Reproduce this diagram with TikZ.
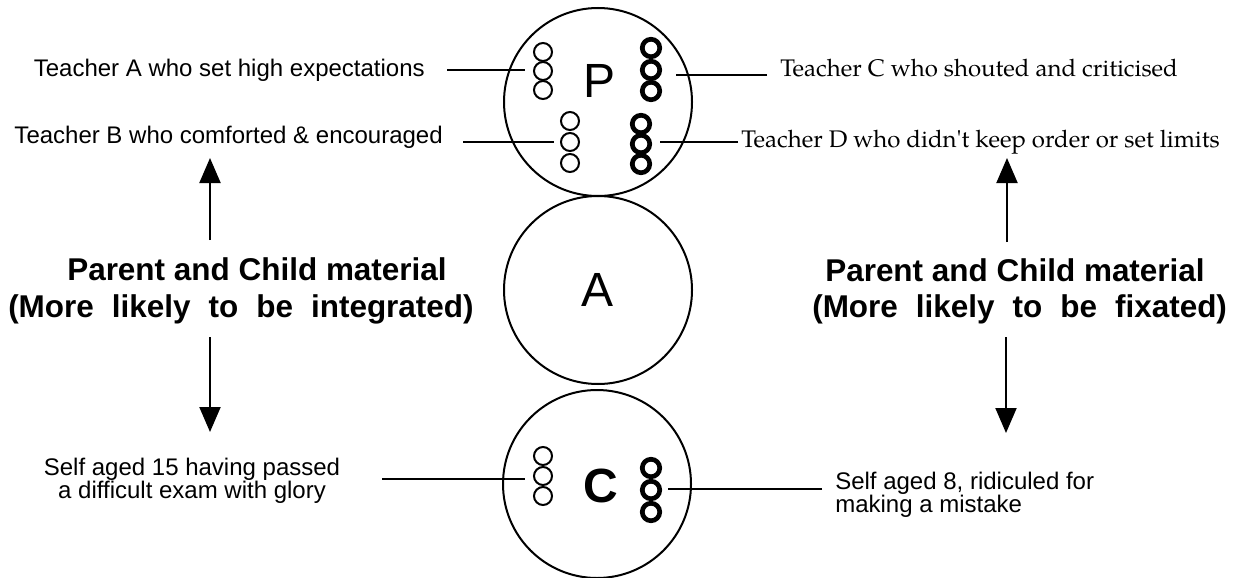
\documentclass[tikz,border=0pt]{standalone}
\usepackage{fontspec}
\setmainfont{Liberation Sans}
\newfontfamily\palfont[Extension=.otf, UprightFont=*-regular, BoldFont=*-bold]{texgyrepagella}
\usetikzlibrary{arrows.meta}

\begin{document}
\begin{tikzpicture}[x=0.75pt, y=-0.75pt,
  big/.style={circle, draw, line width=1.5pt, minimum size=141pt, inner sep=0pt},
  thinring/.style={circle, draw, line width=1.5pt, minimum size=13.5pt, inner sep=0pt, outer sep=0pt},
  thickring/.style={circle, draw, line width=3.5pt, minimum size=13.1pt, inner sep=0pt, outer sep=0pt},
  link/.style={line width=1.5pt},
  flow/.style={line width=1.5pt, -{Triangle[length=18.75pt, width=15.75pt]}},
  sans/.style={font=\fontsize{18pt}{16.5pt}\selectfont, inner sep=0pt},
  serif/.style={font=\palfont\fontsize{18pt}{21pt}\selectfont, inner sep=0pt},
  heading/.style={font=\bfseries\fontsize{23.6pt}{28pt}\selectfont, inner sep=0pt},
  letter/.style={font=\fontsize{36pt}{40pt}\selectfont, inner sep=0pt}]

\useasboundingbox (0,0) rectangle (1235,578);

% the three ego-state circles
\node[big] (P) at (598,102) {};
\node[big, font=\fontsize{36pt}{40pt}\selectfont] (A) at (598,290) {A};
\node[big] (C) at (597,484) {};
\node[letter, anchor=base] (lp) at (600,97) {P};
\node[letter, font=\bfseries\fontsize{36pt}{40pt}\selectfont, anchor=base] (lc) at (601,502) {C};

% stacks of rings inside P
\foreach \i/\y in {1/52, 2/71, 3/90} \node[thinring] (pa\i) at (543,\y) {};
\foreach \i/\y in {1/121, 2/142, 3/163} \node[thinring] (pb\i) at (570,\y) {};
\foreach \i/\y in {1/48, 2/70, 3/91} \node[thickring] (pc\i) at (651,\y) {};
\foreach \i/\y in {1/124, 2/144, 3/164} \node[thickring] (pd\i) at (641,\y) {};

% stacks of rings inside C
\foreach \i/\y in {1/456, 2/476, 3/496} \node[thinring] (cl\i) at (543,\y) {};
\foreach \i/\y in {1/468, 2/490, 3/512} \node[thickring] (cr\i) at (651,\y) {};

% captions
\node[sans, anchor=base east] (ta) at (425,76) {Teacher A who set high expectations};
\node[sans, anchor=base east] (tb) at (443,143) {Teacher B who comforted \& encouraged};
\node[serif, anchor=base west] (tc) at (780,76) {Teacher C who shouted and criticised};
\node[serif, anchor=base west] (td) at (741,147) {Teacher D who didn't keep order or set limits};
\node[sans, align=center, anchor=north] (s15) at (192,457.4) {Self aged 15 having passed\\a difficult exam with glory};
\node[sans, align=left, anchor=north west] (s8) at (835,471.4) {Self aged 8, ridiculed for\\making a mistake};

% pointer lines
\coordinate (ea) at (447,70);
\coordinate (eb) at (463,142);
\coordinate (ec) at (767,75);
\coordinate (ed) at (738,142);
\coordinate (e15) at (382,479);
\coordinate (e8) at (822,489);
\draw[link, shorten >=6.75pt] (ea) -- (ea -| pa2.west);
\draw[link, shorten >=5.25pt] (eb) -- (eb -| pb2.west);
\draw[link, shorten >=12pt] (ec) -- (ec -| pc2.east);
\draw[link, shorten >=7.5pt] (ed) -- (ed -| pd2.east);
\draw[link, shorten >=6.75pt] (e15) -- (e15 -| cl2.west);
\draw[link, shorten >=6pt] (e8) -- (e8 -| cr2.east);

% side headings
\node[heading, anchor=base west] (l1) at (67,280) {Parent and Child material};
\node[heading, anchor=base west] (l2) at (8,317) {\spaceskip=13.5pt (More likely to be integrated)};
\node[heading, anchor=base west] (r1) at (825,281) {Parent and Child material};
\node[heading, anchor=base west] (r2) at (812,317) {\spaceskip=13.5pt (More likely to be fixated)};

% arrows
\coordinate (lu0) at (210,240);
\coordinate (lu1) at (210,158);
\coordinate (ld0) at (210,337);
\coordinate (ld1) at (210,432);
\coordinate (ru0) at (1007,242);
\coordinate (ru1) at (1007,158);
\coordinate (rd0) at (1006,337);
\coordinate (rd1) at (1006,433);
\draw[flow] (lu0) -- (lu1);
\draw[flow] (ld0) -- (ld1);
\draw[flow] (ru0) -- (ru1);
\draw[flow] (rd0) -- (rd1);
\end{tikzpicture}
\end{document}
